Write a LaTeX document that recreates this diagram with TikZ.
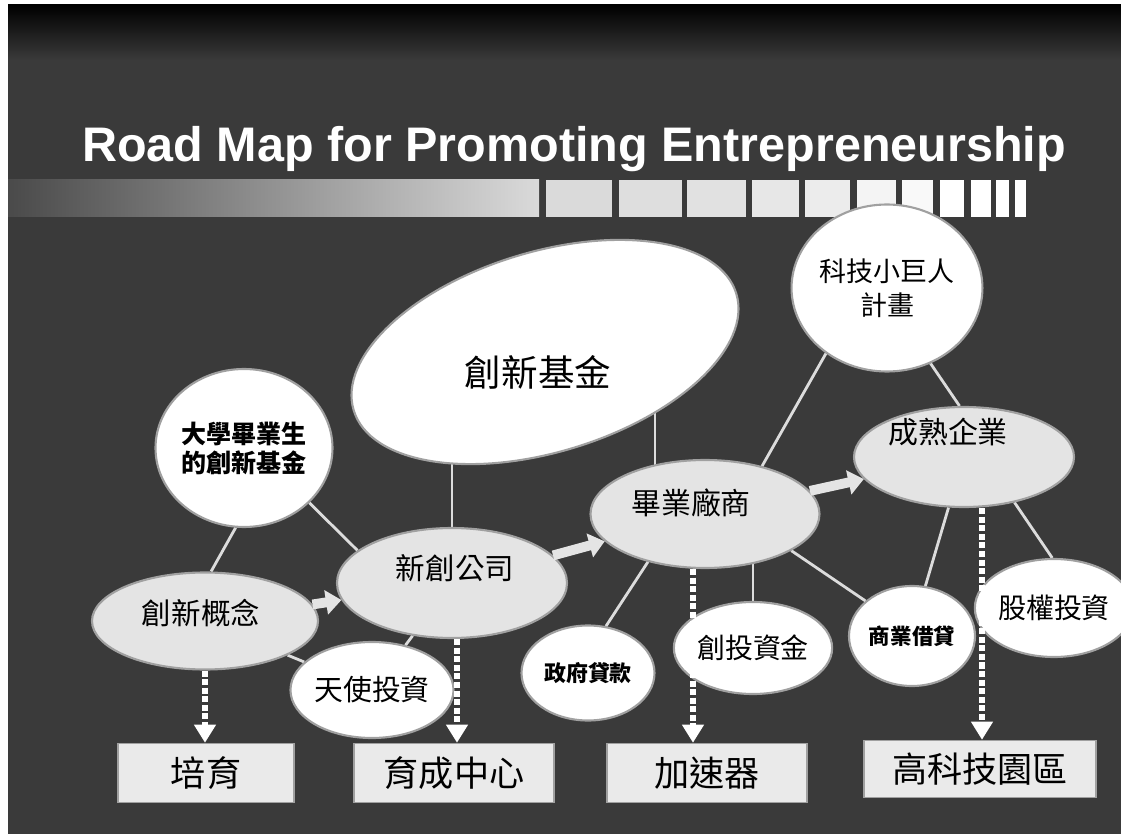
\documentclass[tikz,border=0pt]{standalone}
\usepackage{fontspec}
\newfontfamily\cjk{Noto Sans CJK TC}
\newfontfamily\titlefont{Liberation Sans}
\usetikzlibrary{shapes.geometric,arrows.meta}
\newlength{\pixu}
\setlength{\pixu}{0.025cm}
\definecolor{bggray}{HTML}{3A3A3A}
\definecolor{edgegray}{HTML}{A0A0A0}
\definecolor{lightfill}{HTML}{E4E4E4}
\definecolor{boxfill}{HTML}{EAEAEA}
\definecolor{linegray}{HTML}{DCDCDC}
\definecolor{barleft}{HTML}{4A4A4A}
\definecolor{barright}{HTML}{DADADA}
\pgfdeclarelayer{bg}
\pgfdeclarelayer{lines}
\pgfsetlayers{bg,lines,main}
\tikzset{
  sz/.style 2 args={font=\cjk\fontsize{#1}{#2}\selectfont},
  szb/.style 2 args={font=\cjk\bfseries\fontsize{#1}{#2}\selectfont},
  bubble/.style={ellipse, fill=white, draw=edgegray, line width=1.5pt, inner sep=0pt, align=center},
  pale/.style={bubble, fill=lightfill},
  stage/.style={rectangle, fill=boxfill, draw=edgegray, line width=1pt, inner sep=0pt,
    minimum height=59\pixu, sz={25}{30}},
  conn/.style={draw=linegray, line width=2pt},
  dotarrow/.style={draw=white, line width=4.3pt, dash pattern=on 4.3pt off 1.8pt,
    -{Triangle[width=15pt,length=13pt]}},
  push/.style={draw=lightfill, line width=7pt, -{Triangle[width=17pt,length=11pt]}},
}
\begin{document}
\begin{tikzpicture}[x=0.025cm,y=-0.025cm]
    \useasboundingbox (0,0) rectangle (1121,834);
    \begin{pgfonlayer}{bg}
    \fill[white] (0,0) rectangle (1121,834);
    \fill[bggray] (8,5) rectangle (1121,834);
    \shade[top color=black, bottom color=bggray] (8,5) rectangle (1121,60);
    \shade[left color=barleft, right color=barright] (8,180) rectangle (539,217);
    \foreach \a/\b/\w in {546/612/0, 619/682/10, 687/746/20, 752/799/35, 805/850/50,
        857/896/70, 902/933/85, 940/964/100, 971/991/100, 996/1009/100, 1015/1026/100}
      \fill[white!\w!barright] (\a,180) rectangle (\b,217);
    \end{pgfonlayer}

    \node[font=\titlefont\bfseries\fontsize{34.5}{40}\selectfont, text=white, anchor=base]
      (title) at (574,162) {Road Map for Promoting Entrepreneurship};

    \node[bubble, minimum width=400\pixu, minimum height=200\pixu, rotate=17] (jijin) at (545,352) {};
    \node[sz={26}{30}] (jijintext) at (538,372) {創新基金};
    \node[bubble, minimum width=166\pixu, minimum height=158\pixu, szb={17.8}{20.6}]
      (daxue) at (244,448) {大學畢業生\\的創新基金};
    \node[bubble, minimum width=175\pixu, minimum height=167\pixu, sz={19.2}{24}]
      (keji) at (887,288) {科技小巨人\\計畫};
    \node[pale, minimum width=226\pixu, minimum height=97\pixu,
      label={[sz={21}{25}, xshift=-4\pixu, yshift=8\pixu]center:創新概念}] (gainian) at (205,621) {};
    \node[pale, minimum width=230\pixu, minimum height=110\pixu,
      label={[sz={21}{25}, xshift=3\pixu, yshift=15\pixu]center:新創公司}] (xinchuang) at (452,583) {};
    \node[pale, minimum width=229\pixu, minimum height=108\pixu,
      label={[sz={21.3}{25}, xshift=-14\pixu, yshift=11\pixu]center:畢業廠商}] (biye) at (705,514) {};
    \node[pale, minimum width=220\pixu, minimum height=100\pixu,
      label={[sz={21.3}{25}, xshift=-16\pixu, yshift=25\pixu]center:成熟企業}] (chengshu) at (964,457) {};
    \node[bubble, minimum width=127\pixu, minimum height=96\pixu, sz={20.5}{24}] (tianshi) at (372,690) {天使投資};
    \node[bubble, minimum width=133\pixu, minimum height=95\pixu, szb={15.6}{18}] (zhengfu) at (588,673) {政府貸款};
    \node[bubble, minimum width=129\pixu, minimum height=92\pixu, sz={19.9}{24}] (chuangtou) at (753,648) {創投資金};
    \node[bubble, minimum width=126\pixu, minimum height=100\pixu, szb={15.3}{18}] (shangye) at (912,636) {商業借貸};
    \node[bubble, minimum width=128\pixu, minimum height=98\pixu, sz={19.9}{24}] (guquan) at (1054,608) {股權投資};

    \node[stage, minimum width=176\pixu] (peiyu) at (206,773) {培育};
    \node[stage, minimum width=200\pixu] (yucheng) at (454,773) {育成中心};
    \node[stage, minimum width=200\pixu] (jiasu) at (707,773) {加速器};
    \node[stage, minimum width=232\pixu, minimum height=57\pixu] (gaoke) at (980,769) {高科技園區};

    \begin{pgfonlayer}{lines}
    \draw[conn] (xinchuang.center) -- (xinchuang.center |- jijin.center);
    \draw[conn] ([xshift=-50\pixu]biye.center) -- ([xshift=-50\pixu]biye.center |- jijin.center);
    \draw[conn] (keji.227) -- (biye.40);
    \draw[conn] (keji.300) -- (chengshu.95);
    \draw[conn] (daxue.264) -- (gainian.83);
    \draw[conn] (daxue.320) -- (xinchuang.161);
    \draw[conn] (gainian) -- (tianshi);
    \draw[conn] (xinchuang) -- (tianshi);
    \draw[conn] (biye.220) -- (zhengfu.69);
    \draw[conn] (chuangtou.center) -- (chuangtou.center |- biye.center);
    \draw[conn] (biye.337) -- (shangye.143);
    \draw[conn] (chengshu.253) -- (shangye.75);
    \draw[conn] (chengshu.318) -- (guquan.92);
    \end{pgfonlayer}

    \draw[push] (gainian) -- (xinchuang);
    \draw[push] (xinchuang) -- (biye);
    \draw[push] (biye) -- (chengshu);

    \draw[dotarrow] (gainian.south) -- (gainian.south |- peiyu.north);
    \draw[dotarrow] ([xshift=5\pixu]xinchuang.south) -- ([xshift=5\pixu]xinchuang.south |- yucheng.north);
    \draw[dotarrow] ([xshift=-12\pixu]biye.south) -- ([xshift=-12\pixu]biye.south |- jiasu.north);
    \draw[dotarrow] ([xshift=18\pixu]chengshu.south) -- ([xshift=18\pixu]chengshu.south |- gaoke.north);
\end{tikzpicture}
\end{document}
